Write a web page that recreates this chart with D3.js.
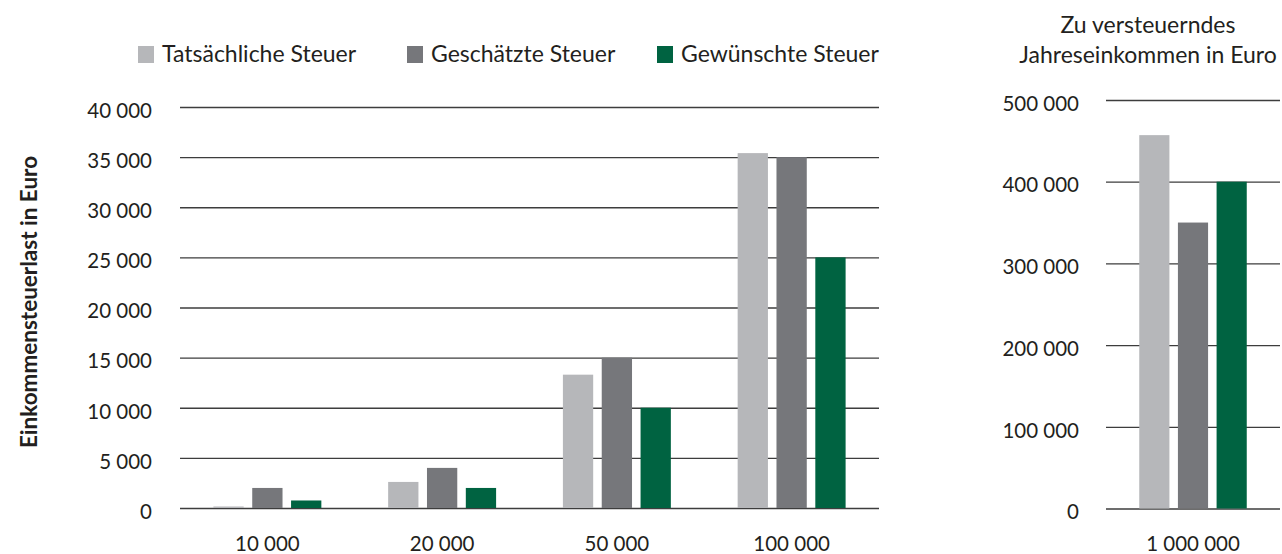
<!DOCTYPE html>
<html>
<head>
<meta charset="utf-8">
<script src="https://cdn.jsdelivr.net/npm/d3@7"></script>
<style>
  body { margin: 0; background: #fff; }
  svg text { font-family: Lato, "Noto Sans", sans-serif; fill: #231f20; }
  .grid line { stroke: #3d3d3d; stroke-width: 1.3; }
</style>
</head>
<body>
<svg id="chart" width="1282" height="554"></svg>
<script>
// data
var series = ["Tatsächliche Steuer", "Geschätzte Steuer", "Gewünschte Steuer"];
var seriesColors = ["#b6b7ba", "#76777b", "#006341"];

var incomeGroups = ["10 000", "20 000", "50 000", "100 000"];
var actualTax   = [150, 2600, 13300, 35400];
var guessedTax  = [2000, 4000, 15000, 35000];
var wishedTax   = [750, 2000, 10000, 25000];
var leftTicks = [0, 5000, 10000, 15000, 20000, 25000, 30000, 35000, 40000];

var bigGroups = ["1 000 000"];
var bigActual  = [457000];
var bigGuessed = [350000];
var bigWished  = [400000];
var rightTicks = [0, 100000, 200000, 300000, 400000, 500000];

var yTitle = "Einkommensteuerlast in Euro";
var xTitle = ["Zu versteuerndes", "Jahreseinkommen in Euro"];

var de = d3.formatLocale({decimal: ",", thousands: " ", grouping: [3], currency: ["", " €"]});
var fmt = de.format(",");

var svg = d3.select("#chart"),
    tickSize = 20.5,
    labelSize = 23;

// one block of grouped bars (gridlines, bars, axis labels)
function drawPanel(groups, values, ticks, xRange, yRange, labelPad) {
  var x0 = d3.scaleBand().domain(groups).range(xRange).paddingInner(0).paddingOuter(0);
  var x1 = d3.scaleBand().domain(series).range([0, x0.bandwidth()]).paddingInner(0.22).paddingOuter(0.86);
  var y = d3.scaleLinear().domain([0, d3.max(ticks)]).range(yRange);

  var rows = groups.map(function(g, i) {
    return { group: g, vals: series.map(function(s, j) { return { key: s, value: values[j][i], color: seriesColors[j] }; }) };
  });

  var yAxis = svg.append("g")
    .attr("class", "grid")
    .attr("transform", "translate(" + xRange[0] + ",0)")
    .call(d3.axisLeft(y).tickValues(ticks).tickFormat(fmt)
      .tickSize(-(xRange[1] - xRange[0])).tickPadding(labelPad));
  yAxis.select(".domain").remove();
  yAxis.selectAll("text").attr("dy", "0.5em").style("font-size", tickSize + "px");

  svg.append("g").selectAll("g")
    .data(rows)
    .enter().append("g")
      .attr("transform", function(d) { return "translate(" + x0(d.group) + ",0)"; })
    .selectAll("rect")
    .data(function(d) { return d.vals; })
    .enter().append("rect")
      .attr("x", function(d) { return x1(d.key); })
      .attr("y", function(d) { return y(d.value); })
      .attr("width", x1.bandwidth())
      .attr("height", function(d) { return y(0) - y(d.value); })
      .attr("fill", function(d) { return d.color; });

  var xAxis = svg.append("g")
    .attr("transform", "translate(0," + y(0) + ")")
    .call(d3.axisBottom(x0).tickSize(0).tickPadding(28));
  xAxis.select(".domain").remove();
  xAxis.selectAll("text").style("font-size", tickSize + "px");
}

drawPanel(incomeGroups, [actualTax, guessedTax, wishedTax], leftTicks, [180, 879], [508, 107], 28);
drawPanel(bigGroups, [bigActual, bigGuessed, bigWished], rightTicks, [1106, 1280], [508.5, 100], 27);

// legend
var legendX = [138, 407, 657];
var legend = svg.append("g").selectAll("g")
  .data(series)
  .enter().append("g")
    .attr("transform", function(d, i) { return "translate(" + legendX[i] + ",46)"; });
legend.append("rect")
  .attr("width", 16).attr("height", 17)
  .attr("fill", function(d, i) { return seriesColors[i]; });
legend.append("text")
  .attr("x", 24).attr("y", 16)
  .style("font-size", labelSize + "px")
  .text(function(d) { return d; });

// y axis title
svg.append("text")
  .attr("transform", "translate(37,302) rotate(-90)")
  .attr("text-anchor", "middle")
  .style("font-size", (labelSize - 0.5) + "px")
  .style("font-weight", "bold")
  .text(yTitle);

// title over the right panel
svg.append("text")
  .attr("text-anchor", "middle")
  .style("font-size", labelSize + "px")
  .selectAll("tspan")
  .data(xTitle)
  .enter().append("tspan")
    .attr("x", 1148)
    .attr("y", function(d, i) { return 33 + i * 30; })
    .text(function(d) { return d; });
</script>
</body>
</html>
